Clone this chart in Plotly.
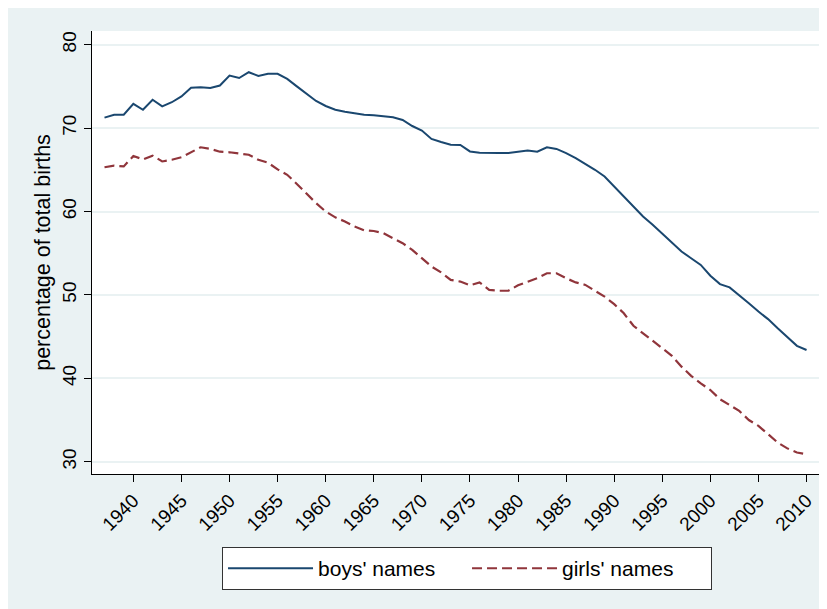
import plotly.graph_objects as go

years = list(range(1937, 2011))

boys_names = [
    71.25, 71.6, 71.6, 72.9, 72.2, 73.4, 72.6, 73.1, 73.8, 74.85,   # 1937-1946
    74.9, 74.8, 75.1, 76.3, 76.0, 76.7, 76.25, 76.5, 76.5, 75.9,    # 1947-1956
    75.0, 74.1, 73.25, 72.65, 72.2, 71.95, 71.8, 71.6, 71.55, 71.45,  # 1957-1966
    71.3, 70.97, 70.25, 69.7, 68.7, 68.33, 68.0, 67.97, 67.2, 67.05,  # 1967-1976
    66.98, 67.0, 67.0, 67.17, 67.3, 67.17, 67.7, 67.5, 67.0, 66.4,    # 1977-1986
    65.75, 65.0, 64.2, 63.0, 61.7, 60.6, 59.4, 58.4, 57.3, 56.2,      # 1987-1996
    55.2, 54.4, 53.6, 52.3, 51.3, 50.9, 50.0, 49.0, 48.0, 47.1,       # 1997-2006
    46.0, 44.9, 43.9, 43.4                                            # 2007-2010
]

girls_names = [
    65.3, 65.5, 65.4, 66.65, 66.25, 66.7, 66.0, 66.2, 66.5, 67.1,    # 1937-1946
    67.7, 67.5, 67.17, 67.1, 66.98, 66.8, 66.2, 65.85, 65.05, 64.4,   # 1947-1956
    63.3, 62.1, 61.0, 60.0, 59.3, 58.8, 58.2, 57.75, 57.66, 57.4,     # 1957-1966
    56.8, 56.2, 55.4, 54.4, 53.4, 52.7, 51.8, 51.6, 51.15, 51.5,      # 1967-1976
    50.6, 50.5, 50.5, 51.15, 51.6, 52.0, 52.6, 52.6, 52.0, 51.5,      # 1977-1986
    51.2, 50.5, 49.8, 48.9, 47.8, 46.3, 45.4, 44.6, 43.7, 42.7,       # 1987-1996
    41.4, 40.3, 39.4, 38.6, 37.5, 36.8, 36.1, 35.0, 34.3, 33.3,       # 1997-2006
    32.3, 31.6, 31.1, 30.9                                            # 2007-2010
]

x_ticks = list(range(1940, 2011, 5))
y_ticks = [30, 40, 50, 60, 70, 80]

BG = "#EAF2F3"
FONT = "Liberation Sans, Arial, sans-serif"

fig = go.Figure()
fig.add_trace(go.Scatter(
    x=years, y=boys_names, mode="lines", name="boys' names",
    line=dict(color="#1A476F", width=2)))
fig.add_trace(go.Scatter(
    x=years, y=girls_names, mode="lines", name="girls' names",
    line=dict(color="#90353B", width=2.2, dash="10px,5px")))

fig.update_layout(
    width=819, height=601,
    margin=dict(l=84, r=7, t=23, b=135, pad=0, autoexpand=False),
    paper_bgcolor=BG, plot_bgcolor="white",
    font=dict(family=FONT, color="black", size=19),
    showlegend=True,
    legend=dict(
        orientation="h", x=0.1786, xanchor="left", y=-0.165, yanchor="top",
        bgcolor="white", bordercolor="#333333", borderwidth=1,
        font=dict(size=21, family=FONT), entrywidth=144, itemwidth=85,
        traceorder="normal"),
)

fig.update_xaxes(
    range=[1935.7, 2011.4], tickvals=x_ticks, ticktext=[str(t) for t in x_ticks],
    tickangle=-45, ticks="outside", ticklen=7, tickwidth=1, tickcolor="black",
    showline=True, linecolor="black", linewidth=1, showgrid=False, zeroline=False,
    automargin=False, tickfont=dict(size=19, family=FONT))

fig.update_yaxes(
    range=[28.53, 81.64], tickvals=y_ticks, ticktext=[str(t) for t in y_ticks],
    tickangle=-90, ticks="outside", ticklen=7, tickwidth=1, tickcolor="black",
    showline=True, linecolor="black", linewidth=1,
    showgrid=True, gridcolor=BG, gridwidth=1.5, zeroline=False,
    automargin=False, tickfont=dict(size=19, family=FONT), ticklabelstandoff=0,
    title=dict(text="percentage of total births", font=dict(size=21.5, family=FONT), standoff=2))

fig.write_html("out.html")
